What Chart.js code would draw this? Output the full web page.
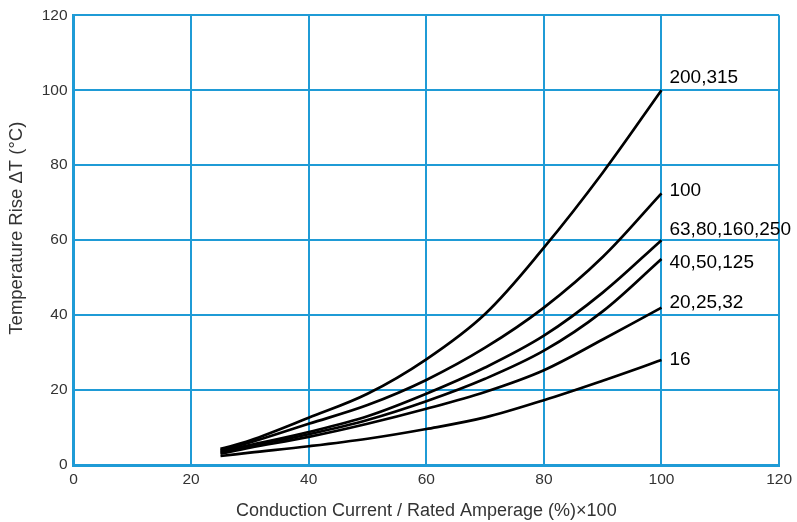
<!DOCTYPE html>
<html>
<head>
<meta charset="utf-8">
<script src="https://cdn.jsdelivr.net/npm/chart.js@4/dist/chart.umd.min.js"></script>
<style>
html,body{margin:0;padding:0;background:#fff;}
#wrap{width:797px;height:522px;position:relative;}
</style>
</head>
<body>
<div id="wrap"><canvas id="c" width="797" height="522"></canvas></div>
<script>
const xValues = [25, 30, 40, 50, 60, 70, 80, 90, 100];
const s200_315 = [4.3, 6.5, 12.6, 19.0, 28.2, 40.3, 58.0, 78.0, 100];
const s100 = [4.0, 6.0, 11.0, 16.0, 22.7, 31.3, 42.0, 55.5, 72.5];
const s63_80_160_250 = [3.7, 5.3, 8.8, 13.0, 19.0, 26.0, 34.5, 46.0, 60];
const s40_50_125 = [3.3, 5.0, 8.2, 12.0, 17.0, 23.0, 30.5, 41.0, 55];
const s20_25_32 = [3.0, 4.6, 7.5, 11.0, 15.0, 19.5, 25.3, 33.5, 42];
const s16 = [2.4, 3.3, 5.0, 7.0, 9.6, 12.7, 17.3, 22.5, 28];
const seriesNames = ['200,315', '100', '63,80,160,250', '40,50,125', '20,25,32', '16'];
const seriesValues = [s200_315, s100, s63_80_160_250, s40_50_125, s20_25_32, s16];
const xTicks = [0, 20, 40, 60, 80, 100, 120];
const yTicks = [0, 20, 40, 60, 80, 100, 120];

const labelDy = [-12, -3, -10, 4, -5, 0];
const FONT = '"Liberation Sans", Arial, sans-serif';
const BLUE = '#1f9bd6';

const datasets = seriesValues.map((vals, i) => ({
  label: seriesNames[i],
  data: xValues.map((x, j) => ({x: x, y: vals[j]})),
  borderColor: '#000',
  borderWidth: 2.7,
  pointRadius: 0,
  fill: false,
  tension: 0.35
}));

const endLabels = {
  id: 'endLabels',
  afterDatasetsDraw(chart) {
    const ctx = chart.ctx;
    ctx.save();
    ctx.font = '19px ' + FONT;
    ctx.fillStyle = '#000';
    ctx.textAlign = 'left';
    ctx.textBaseline = 'middle';
    chart.data.datasets.forEach((ds, i) => {
      const meta = chart.getDatasetMeta(i);
      const last = meta.data[meta.data.length - 1];
      ctx.fillText(ds.label, last.x + 8, last.y + labelDy[i]);
    });
    ctx.restore();
  }
};

const yTitle = {
  id: 'yTitle',
  afterDraw(chart) {
    const ctx = chart.ctx;
    const a = chart.chartArea;
    ctx.save();
    ctx.translate(17, (a.top + a.bottom) / 2 - 12);
    ctx.rotate(-Math.PI / 2);
    ctx.font = '18.5px ' + FONT;
    ctx.fillStyle = '#333';
    ctx.textAlign = 'center';
    ctx.textBaseline = 'middle';
    ctx.fillText('Temperature Rise ΔT (°C)', 0, 0);
    ctx.restore();
  }
};

new Chart(document.getElementById('c'), {
  type: 'line',
  data: { datasets: datasets },
  options: {
    responsive: false,
    animation: false,
    layout: { padding: { left: 0, right: 16, top: 15, bottom: 0 } },
    plugins: { legend: { display: false }, tooltip: { enabled: false } },
    scales: {
      x: {
        type: 'linear',
        min: 0, max: 120,
        afterBuildTicks(s) { s.ticks = xTicks.map(v => ({value: v})); },
        afterFit(s) { s.height = 57; },
        grid: { color: BLUE, lineWidth: 2, drawTicks: false },
        border: { color: BLUE, width: 3 },
        ticks: { color: '#333', font: { family: FONT, size: 15.5 }, padding: 5, maxRotation: 0 },
        title: { display: true, text: 'Conduction Current / Rated Amperage (%)×100', color: '#333', font: { family: FONT, size: 18 }, padding: { top: 5, bottom: 0 } }
      },
      y: {
        type: 'linear',
        min: 0, max: 120,
        afterBuildTicks(s) { s.ticks = yTicks.map(v => ({value: v})); },
        afterFit(s) { s.width = 73.5; },
        grid: { color: BLUE, lineWidth: 2, drawTicks: false },
        border: { color: BLUE, width: 3 },
        ticks: { color: '#333', font: { family: FONT, size: 15.5 }, padding: 6 },
        title: { display: false }
      }
    }
  },
  plugins: [endLabels, yTitle]
});
</script>
</body>
</html>
